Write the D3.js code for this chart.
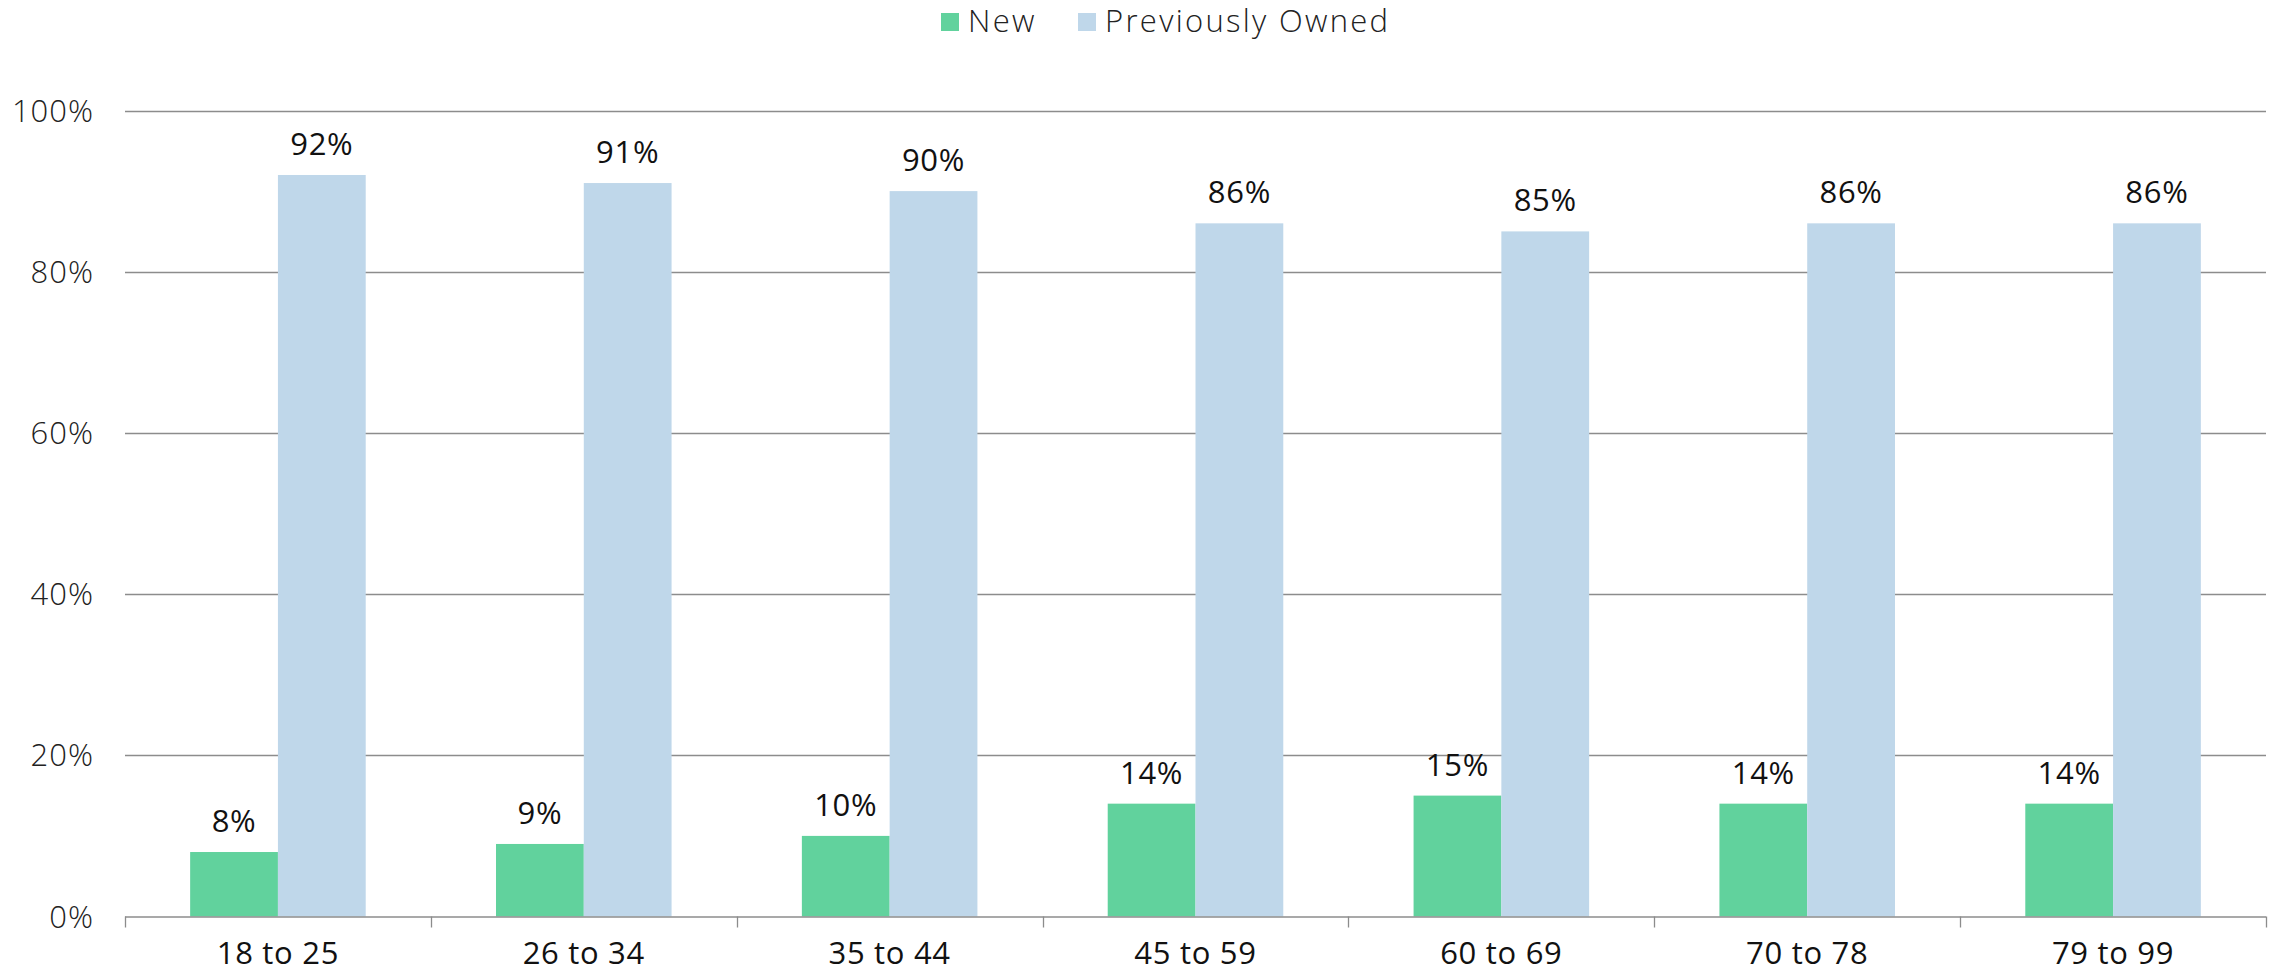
<!DOCTYPE html>
<html>
<head>
<meta charset="utf-8">
<script src="https://cdn.jsdelivr.net/npm/d3@7"></script>
<style>
  html, body { margin: 0; padding: 0; background: #fff; }
  svg { display: block; font-family: "Open Sans", "Noto Sans", sans-serif; }
</style>
</head>
<body>
<svg id="chart" width="2278" height="973"></svg>
<script>
const categories = ["18 to 25", "26 to 34", "35 to 44", "45 to 59", "60 to 69", "70 to 78", "79 to 99"];
const seriesNames = ["New", "Previously Owned"];
const newValues = [8, 9, 10, 14, 15, 14, 14];
const prevValues = [92, 91, 90, 86, 85, 86, 86];
const yTicks = [0, 20, 40, 60, 80, 100];
const colors = ["#61D29D", "#BFD7EA"];

const svg = d3.select("#chart");
const x0 = 125, x1 = 2266, yTop = 110.5, yBot = 916.5;

const x = d3.scaleBand().domain(categories).range([x0, x1]).paddingInner(0).paddingOuter(0);
const inner = d3.scaleBand().domain(seriesNames).range([x.bandwidth() * 0.213, x.bandwidth() * 0.787]).padding(0);
const y = d3.scaleLinear().domain([0, 100]).range([yBot, yTop]);

// gridlines
svg.append("g").selectAll("line").data(yTicks.filter(d => d > 0)).join("line")
  .attr("x1", x0).attr("x2", x1)
  .attr("y1", d => Math.round(y(d)) + 0.5).attr("y2", d => Math.round(y(d)) + 0.5)
  .attr("stroke", "#8c8c8c").attr("stroke-width", 1.3);

// y tick labels
svg.append("g").selectAll("text").data(yTicks).join("text")
  .attr("x", 94).attr("y", d => y(d) + 11)
  .attr("text-anchor", "end")
  .attr("font-size", 31).attr("font-weight", 300).attr("fill", "#222")
  .attr("letter-spacing", 1)
  .text(d => d + "%");

const data = categories.map((c, i) => ({cat: c, vals: [newValues[i], prevValues[i]]}));

const groups = svg.append("g").selectAll("g").data(data).join("g")
  .attr("transform", d => `translate(${x(d.cat)},0)`);

groups.selectAll("rect").data(d => d.vals.map((v, j) => ({s: seriesNames[j], v, j}))).join("rect")
  .attr("x", d => inner(d.s)).attr("width", inner.bandwidth())
  .attr("y", d => y(d.v)).attr("height", d => y(0) - y(d.v))
  .attr("fill", d => colors[d.j]);

groups.selectAll("text").data(d => d.vals.map((v, j) => ({s: seriesNames[j], v, j}))).join("text")
  .attr("x", d => inner(d.s) + inner.bandwidth() / 2)
  .attr("y", d => y(d.v) - 20)
  .attr("text-anchor", "middle")
  .attr("font-size", 31).attr("fill", "#111")
  .attr("letter-spacing", 0.7)
  .text(d => d.v + "%");

// x axis
const ax = svg.append("g").attr("transform", `translate(0,${yBot})`);
ax.append("line").attr("x1", x0).attr("x2", x1).attr("y1", 0.5).attr("y2", 0.5)
  .attr("stroke", "#8c8c8c").attr("stroke-width", 1.3);
const bounds = categories.map(c => x(c)).concat([x1]);
ax.selectAll("line.tick").data(bounds).join("line").attr("class", "tick")
  .attr("x1", d => Math.round(d) + 0.5).attr("x2", d => Math.round(d) + 0.5)
  .attr("y1", 0).attr("y2", 11)
  .attr("stroke", "#8c8c8c").attr("stroke-width", 1.3);
ax.selectAll("text").data(categories).join("text")
  .attr("x", d => x(d) + x.bandwidth() / 2)
  .attr("y", 47)
  .attr("text-anchor", "middle")
  .attr("font-size", 31).attr("font-weight", 500).attr("fill", "#111")
  .attr("letter-spacing", 0.7)
  .text(d => d);

// legend
const legend = svg.append("g");
const legendItems = [
  {name: seriesNames[0], color: colors[0], x: 941},
  {name: seriesNames[1], color: colors[1], x: 1078}
];
legendItems.forEach(it => {
  legend.append("rect").attr("x", it.x).attr("y", 13).attr("width", 18).attr("height", 18).attr("fill", it.color);
  legend.append("text").attr("x", it.x + 27).attr("y", 32)
    .attr("font-size", 31).attr("font-weight", 300).attr("fill", "#222")
    .attr("letter-spacing", 2.3).text(it.name);
});
</script>
</body>
</html>
